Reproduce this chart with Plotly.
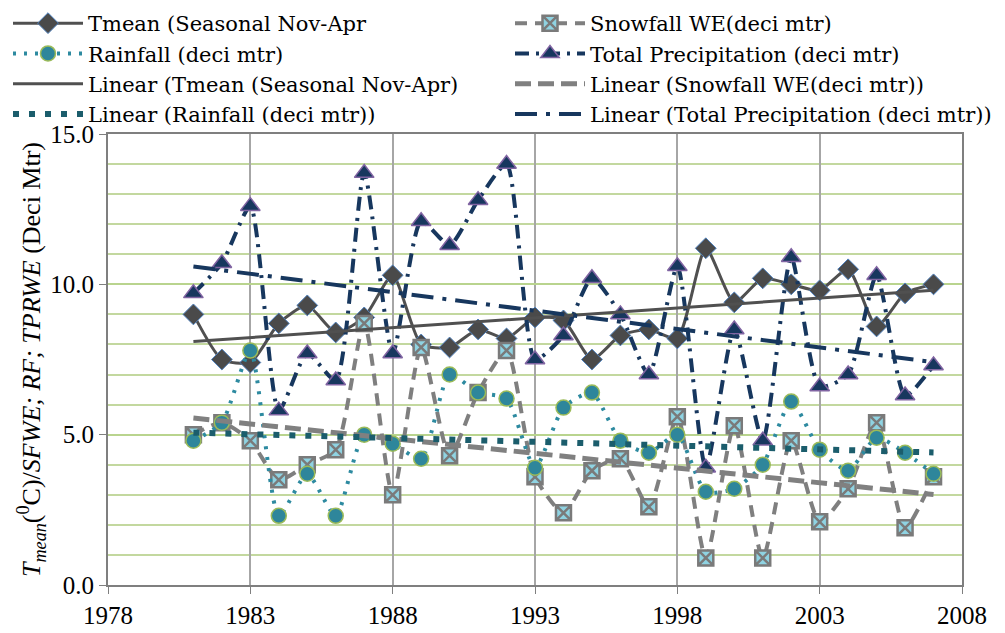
import numpy as np
import plotly.graph_objects as go

years = list(range(1981, 2008))
tmean = [9.0, 7.5, 7.4, 8.7, 9.3, 8.4, 8.9, 10.3, 8.0, 7.9, 8.5, 8.2, 8.9, 8.8,
         7.5, 8.3, 8.5, 8.2, 11.2, 9.4, 10.2, 10.0, 9.8, 10.5, 8.6, 9.7, 10.0]
snowfall = [5.0, 5.4, 4.8, 3.5, 4.0, 4.5, 8.7, 3.0, 7.9, 4.3, 6.4, 7.8, 3.6, 2.4,
            3.8, 4.2, 2.6, 5.6, 0.9, 5.3, 0.9, 4.8, 2.1, 3.2, 5.4, 1.9, 3.6]
rainfall = [4.8, 5.4, 7.8, 2.3, 3.7, 2.3, 5.0, 4.7, 4.2, 7.0, 6.4, 6.2, 3.9, 5.9,
            6.4, 4.8, 4.4, 5.0, 3.1, 3.2, 4.0, 6.1, 4.5, 3.8, 4.9, 4.4, 3.7]
total_prec = [9.7, 10.7, 12.6, 5.8, 7.7, 6.8, 13.7, 7.7, 12.1, 11.3, 12.8, 14.0, 7.5, 8.3,
              10.2, 9.0, 7.0, 10.6, 3.9, 8.5, 4.8, 10.9, 6.6, 7.0, 10.3, 6.3, 7.3]

x_ticks = [1978, 1983, 1988, 1993, 1998, 2003, 2008]
y_ticks = [0, 5, 10, 15]
y_ticklabels = ["0.0", "5.0", "10.0", "15.0"]

names = ["Tmean (Seasonal Nov-Apr", "Snowfall WE(deci mtr)", "Rainfall (deci mtr)",
         "Total Precipitation (deci mtr)"]
trend_names = ["Linear (Tmean (Seasonal Nov-Apr)", "Linear (Snowfall WE(deci mtr))",
               "Linear (Rainfall (deci mtr))", "Linear (Total Precipitation (deci mtr))"]


def trend(vals):
    a, b = np.polyfit(years, vals, 1)
    return [a * y + b for y in years]


FONT = "Liberation Serif"
LEG_FONT = "DejaVu Serif"
fig = go.Figure()

# left legend column: Tmean, Rainfall, Linear Tmean, Linear Rainfall
# right legend column: Snowfall, Total Precipitation, Linear Snowfall, Linear Total
fig.add_trace(go.Scatter(
    x=years, y=tmean, name=names[0], mode="lines+markers", legend="legend", legendrank=1,
    line=dict(color="#505050", width=3, shape="spline", smoothing=0.6),
    marker=dict(symbol="diamond", size=16, color="#4a4a4a",
                line=dict(color="#4f81bd", width=1))))
fig.add_trace(go.Scatter(
    x=years, y=snowfall, name=names[1], mode="lines+markers", legend="legend2", legendrank=1,
    line=dict(color="#7f7f7f", width=4, dash="12px,8px", shape="spline", smoothing=0.6),
    marker=dict(symbol="square-x", size=15, color="#8fd3e2",
                line=dict(color="#7a7a7a", width=2.5))))
fig.add_trace(go.Scatter(
    x=years, y=rainfall, name=names[2], mode="lines+markers", legend="legend", legendrank=2,
    line=dict(color="#2d8aa0", width=4, dash="3px,8px", shape="spline", smoothing=0.6),
    marker=dict(symbol="circle", size=15, color="#2e869b",
                line=dict(color="#9bbb59", width=1.5))))
fig.add_trace(go.Scatter(
    x=years, y=total_prec, name=names[3], mode="lines+markers", legend="legend2", legendrank=2,
    line=dict(color="#17375e", width=4, dash="14px,7px,3px,7px", shape="spline", smoothing=0.6),
    marker=dict(symbol="triangle-up", size=17, color="#17375e",
                line=dict(color="#8064a2", width=1.5))))

fig.add_trace(go.Scatter(
    x=years, y=trend(tmean), name=trend_names[0], mode="lines", legend="legend", legendrank=3,
    line=dict(color="#505050", width=3)))
fig.add_trace(go.Scatter(
    x=years, y=trend(snowfall), name=trend_names[1], mode="lines", legend="legend2", legendrank=3,
    line=dict(color="#808080", width=5, dash="16px,7px")))
fig.add_trace(go.Scatter(
    x=years, y=trend(rainfall), name=trend_names[2], mode="lines", legend="legend", legendrank=4,
    line=dict(color="#1b5d6c", width=6, dash="6px,10px")))
fig.add_trace(go.Scatter(
    x=years, y=trend(total_prec), name=trend_names[3], mode="lines", legend="legend2", legendrank=4,
    line=dict(color="#17375e", width=4, dash="22px,9px,4px,9px")))

# page has an 8px body margin, so the figure is 8px smaller on each side
W, H = 997, 625
ML, MR, MT, MB = 100, 43, 126, 48
PW, PH = W - ML - MR, H - MT - MB

leg_common = dict(
    orientation="v", xref="paper", yref="paper",
    xanchor="left", yanchor="top", itemwidth=70, traceorder="normal",
    font=dict(family=LEG_FONT, size=21, color="black"),
    bgcolor="rgba(0,0,0,0)", tracegroupgap=0,
)

fig.update_layout(
    width=W, height=H,
    margin=dict(l=ML, r=MR, t=MT, b=MB, autoexpand=False),
    paper_bgcolor="white", plot_bgcolor="white",
    font=dict(family=FONT, size=24, color="black"),
    showlegend=True,
    legend=dict(x=-ML / PW, y=1 + (MT + 5) / PH, **leg_common),
    legend2=dict(x=(502 - ML) / PW, y=1 + (MT + 5) / PH, **leg_common),
    xaxis=dict(
        range=[1978, 2008], tickvals=x_ticks, ticktext=[str(v) for v in x_ticks],
        showgrid=True, gridcolor="#a6a6a6", gridwidth=1.5,
        showline=True, linecolor="#7f7f7f", linewidth=2, mirror=True,
        ticks="outside", ticklen=7, tickcolor="#7f7f7f",
        tickfont=dict(family=FONT, size=25), zeroline=False,
    ),
    yaxis=dict(
        range=[0, 15], tickvals=y_ticks, ticktext=y_ticklabels,
        showgrid=True, gridcolor="#b9d48e", gridwidth=1.5,
        minor=dict(dtick=1, showgrid=True, gridcolor="#c3d89f", gridwidth=1.5),
        showline=True, linecolor="#7f7f7f", linewidth=2, mirror=True,
        ticks="outside", ticklen=7, tickcolor="#7f7f7f",
        tickfont=dict(family=FONT, size=25), zeroline=False,
        title=dict(
            text="<i>T</i><sub><i>mean</i></sub>(<sup>0</sup>C)/<i>SFWE; RF; TPRWE</i> (Deci Mtr)",
            font=dict(family=FONT, size=26), standoff=2),
    ),
)

fig.write_html("out.html")
